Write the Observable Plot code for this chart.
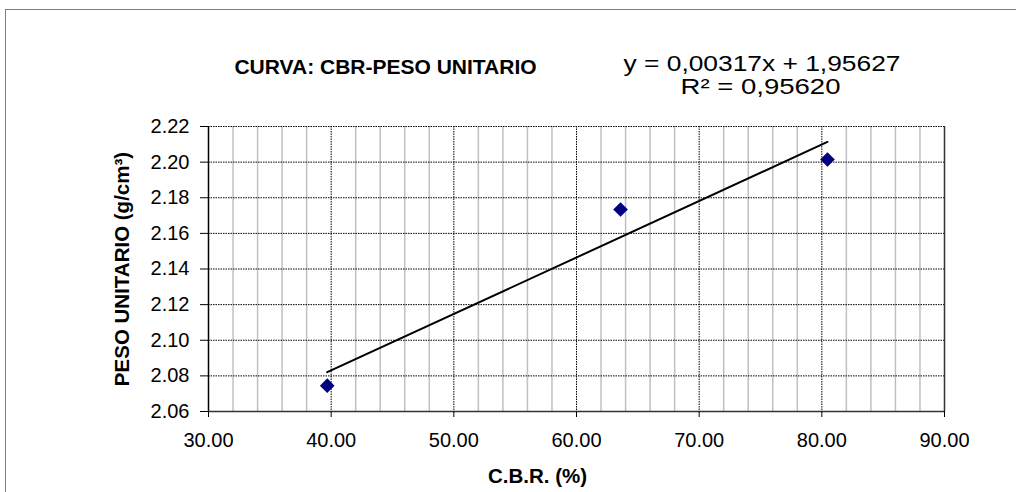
<!DOCTYPE html>
<html><head><meta charset="utf-8">
<script src="https://cdn.jsdelivr.net/npm/d3@7"></script>
<script src="https://cdn.jsdelivr.net/npm/@observablehq/plot@0.6"></script>
<style>
body{margin:0;background:#fff;font-family:"Liberation Sans",Arial,sans-serif;}
#wrap{position:relative;width:1016px;height:492px;overflow:hidden;}
#border{position:absolute;left:5px;top:9px;width:1100px;height:600px;border:1px solid #808080;}
#wrap svg{position:absolute;left:0;top:0;}
</style></head><body><div id="wrap"><div id="border"></div></div>
<script>
// Data
const cbr = [39.68, 63.59, 80.46];
const peso = [2.0745, 2.1734, 2.2015];
const xTicks = [30, 40, 50, 60, 70, 80, 90];
const xMajorGrid = [40, 50, 60, 70, 80];
const xMinorGrid = [32, 34, 36, 38, 42, 44, 46, 48, 52, 54, 56, 58, 62, 64, 66, 68, 72, 74, 76, 78, 82, 84, 86, 88];
const yTicks = [2.06, 2.08, 2.10, 2.12, 2.14, 2.16, 2.18, 2.20, 2.22];
const slope = 0.00317, intercept = 1.95627, r2 = "0,95620";
const trendX = [39.68, 80.46];
const titleText = "CURVA: CBR-PESO UNITARIO";
const xLabel = "C.B.R. (%)";
const yLabel = "PESO UNITARIO (g/cm³)";
const eqText = "y = 0,00317x + 1,95627";
const r2Text = "R² = " + r2;

const points = cbr.map((x, i) => ({x, y: peso[i]}));
const trend = trendX.map(x => ({x, y: slope * x + intercept}));

const chart = Plot.plot({
  width: 1016, height: 492,
  marginLeft: 208, marginRight: 72, marginTop: 126, marginBottom: 81,
  style: {fontFamily: "'Liberation Sans', Arial, sans-serif", fontSize: "20px", background: "transparent", color: "#000"},
  x: {domain: [30, 90]},
  y: {domain: [2.06, 2.22]},
  marks: [
    Plot.ruleX(xMinorGrid, {stroke: "#c0c0c0", strokeWidth: 1.5}),
    Plot.ruleX(xMajorGrid, {stroke: "#000", strokeWidth: 1, strokeDasharray: "1.5,1"}),
    Plot.ruleY(yTicks, {stroke: "#000", strokeWidth: 1, strokeDasharray: "1.5,1"}),
    Plot.ruleX([90], {stroke: "#333", strokeWidth: 1.5}),
    Plot.ruleX([30], {stroke: "#000", strokeWidth: 1.5}),
    Plot.ruleY([2.06], {stroke: "#333", strokeWidth: 1.5}),
    Plot.axisX({ticks: xTicks, tickFormat: d => d.toFixed(2), tickSize: 6, tickPadding: 15, label: null, fontSize: 20, stroke: "#000"}),
    Plot.axisY({ticks: yTicks, tickFormat: d => d.toFixed(2), tickSize: 8, tickPadding: 11, label: null, fontSize: 20, stroke: "#000"}),
    Plot.line(trend, {x: "x", y: "y", stroke: "#000", strokeWidth: 2}),
    Plot.dot(points, {x: "x", y: "y", symbol: "diamond2", r: 6.6, fill: "#000080"}),
    Plot.text([titleText], {frameAnchor: "top-left", dx: 177, dy: -53, textAnchor: "middle", lineAnchor: "bottom", fontWeight: "bold", fontSize: 21, fill: "#000"}),
    Plot.text([eqText], {frameAnchor: "top-left", dx: 553.5, dy: -56, textAnchor: "middle", lineAnchor: "bottom", fontSize: 22, fill: "#000"}),
    Plot.text([r2Text], {frameAnchor: "top-left", dx: 552, dy: -33, textAnchor: "middle", lineAnchor: "bottom", fontSize: 22, fill: "#000"}),
    Plot.text([xLabel], {frameAnchor: "bottom-left", dx: 329, dy: 71, textAnchor: "middle", lineAnchor: "bottom", fontWeight: "bold", fontSize: 20.5, fill: "#000"}),
    Plot.text([yLabel], {frameAnchor: "left", dx: -86, rotate: -90, textAnchor: "middle", lineAnchor: "middle", fontWeight: "bold", fontSize: 20.5, fill: "#000"})
  ]
});
// horizontal stretch of the trendline label, as in the reference
d3.select(chart).selectAll("text").each(function() {
  const t = this.textContent;
  if (t === eqText) d3.select(this).attr("textLength", 277).attr("lengthAdjust", "spacingAndGlyphs");
  if (t === r2Text) d3.select(this).attr("textLength", 160).attr("lengthAdjust", "spacingAndGlyphs");
});
document.getElementById("wrap").appendChild(chart);
</script>
</body></html>
